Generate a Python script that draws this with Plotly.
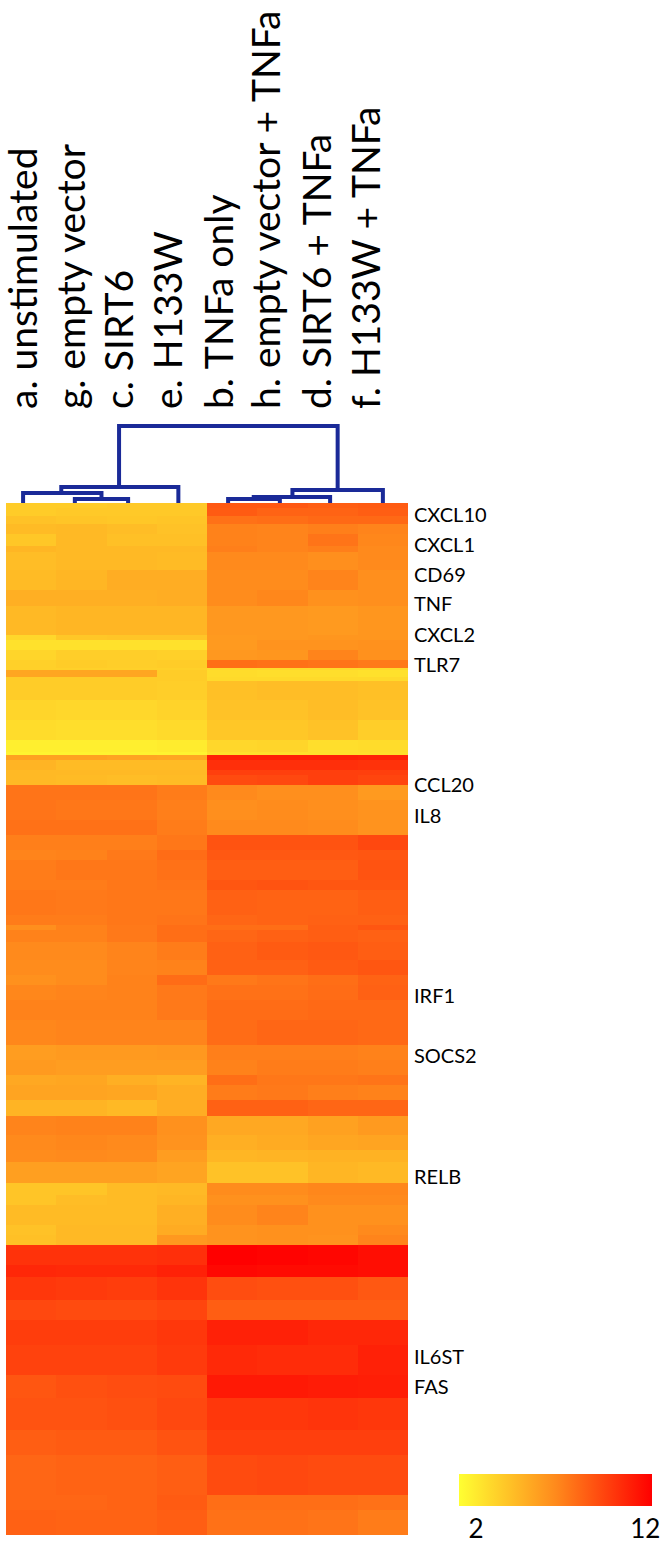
import plotly.graph_objects as go

conditions = ["a. unstimulated", "g. empty vector", "c. SIRT6", "e. H133W", "b. TNFa only",
              "h. empty vector + TNFa", "d. SIRT6 + TNFa", "f. H133W + TNFa"]
label_positions = [-0.13, 0.82, 1.77, 2.76, 3.76, 4.71, 5.71, 6.7]

# height of each visually uniform band of genes, top to bottom, on a 1032-row axis
band_rows = [5, 8, 8, 10, 12, 6, 18, 20, 16, 29, 5, 10, 10, 8, 2, 7, 4, 19, 20, 20, 12, 3, 5, 10, 5, 10,
             15, 20, 15, 15, 10, 20, 10, 25, 10, 5, 12, 18, 15, 10, 15, 20, 25, 15, 15, 10, 15, 16,
             19, 15, 12, 21, 12, 10, 20, 10, 10, 20, 12, 23, 20, 25, 30, 23, 32, 25, 40, 15, 25]
band_values = [
 [4.2,4.2,4.3,4.3,8.8,8.8,8.6,8.7],[4.2,4.3,4.3,4.3,8.7,8.4,8.4,8.6],[4.6,4.5,4.4,4.5,7.9,8.0,8.2,8.2],
 [4.9,5.0,4.8,4.6,7.3,7.2,7.4,7.2],[4.4,5.0,4.7,4.7,7.3,7.2,7.8,7.1],[5.1,5.0,5.0,5.0,7.4,7.2,7.4,7.0],
 [4.8,5.0,5.0,4.9,7.0,7.0,6.8,7.0],[4.9,5.1,5.5,5.5,6.9,6.9,7.2,6.8],[5.4,5.4,5.4,5.5,6.9,7.1,6.7,6.8],
 [5.0,5.1,5.1,5.1,6.4,6.4,6.3,6.5],[3.7,4.4,4.5,4.5,6.3,6.4,6.5,6.5],[3.3,3.3,3.3,3.3,6.3,6.6,6.6,6.7],
 [3.8,4.1,4.1,4.0,6.4,6.5,7.2,6.7],[4.0,4.2,4.1,4.2,8.0,7.9,7.8,7.6],[4.0,4.0,4.0,4.0,3.6,3.6,3.6,3.6],
 [5.8,5.8,5.8,4.2,3.5,3.4,3.4,3.3],[4.2,4.2,4.2,4.2,3.6,3.6,3.6,3.6],[4.2,4.2,4.2,4.1,4.7,4.8,4.8,4.7],
 [3.8,3.7,3.7,3.9,4.6,4.6,4.8,4.6],[3.5,3.4,3.4,3.6,4.4,4.4,4.6,4.1],[2.7,2.7,2.7,2.8,3.7,3.8,3.4,3.5],
 [2.5,2.5,2.5,2.5,3.4,3.4,3.4,3.4],[6.0,6.0,5.9,5.8,10.9,10.9,10.9,10.8],[5.2,4.9,4.9,4.9,10.3,10.3,10.3,10.2],
 [5.0,5.0,5.0,5.0,9.7,9.7,9.7,9.7],[5.0,4.9,4.8,4.9,9.3,9.4,9.7,9.5],
 [7.8,7.8,7.8,7.5,7.0,6.8,6.8,6.3],[7.8,7.7,7.7,7.4,6.8,6.9,6.8,6.6],[7.9,7.9,7.9,7.5,7.0,7.0,6.9,6.6],
 [7.4,7.4,7.4,7.7,9.0,9.0,9.0,9.4],[7.2,7.3,7.6,8.1,8.8,8.8,8.8,8.9],[7.5,7.7,7.7,7.9,8.6,8.6,8.6,9.0],
 [7.5,7.5,7.7,7.8,8.9,9.0,8.9,8.9],[7.7,7.6,7.7,7.7,8.5,8.4,8.4,8.6],[7.5,7.5,7.7,7.8,8.3,8.4,8.5,8.5],
 [6.8,7.3,7.6,8.0,8.0,8.0,8.6,8.9],[7.3,7.3,7.6,8.0,8.3,8.5,8.6,8.5],[7.0,7.0,7.2,7.5,8.5,8.7,8.8,8.6],
 [6.9,6.9,7.2,7.3,8.5,8.5,8.7,8.9],[6.7,6.9,7.3,8.1,7.6,7.8,8.0,8.4],[7.1,7.2,7.3,7.6,7.9,7.9,8.1,8.5],
 [7.3,7.3,7.3,7.6,8.1,8.1,8.2,8.2],[7.1,7.2,7.2,7.2,8.1,8.3,8.3,8.2],[6.2,6.3,6.3,6.4,7.4,7.4,7.4,7.3],
 [6.3,6.2,6.2,6.2,7.3,7.5,7.5,7.4],[5.7,5.8,5.4,5.2,8.0,7.7,7.7,7.8],[5.9,5.9,5.8,5.5,7.5,7.6,7.4,7.3],
 [5.2,5.2,5.0,5.5,8.5,8.5,8.3,8.3],[7.2,7.3,7.3,6.7,5.7,5.7,6.0,6.3],[7.0,7.1,7.0,6.6,5.4,5.6,5.8,5.9],
 [6.9,7.0,6.9,6.2,5.1,5.2,5.3,5.3],[6.1,6.1,6.1,5.9,4.6,4.6,5.1,5.0],[4.5,4.5,4.9,5.0,6.9,6.9,7.1,7.1],
 [4.5,4.8,4.9,5.1,6.7,6.7,7.0,7.0],[4.9,4.9,4.9,5.4,6.9,7.2,6.7,6.7],[4.6,5.0,5.0,5.6,6.6,6.7,6.7,7.0],
 [4.7,5.0,5.0,6.4,6.6,6.7,6.6,7.2],[10.2,10.2,10.2,10.3,12.0,11.9,11.8,11.5],[10.6,10.5,10.5,10.8,11.7,11.6,11.6,11.5],
 [10.0,9.9,9.8,10.1,9.2,9.1,9.1,8.8],[9.4,9.3,9.3,9.5,8.6,8.6,8.6,8.6],[9.8,9.8,9.8,10.0,10.8,10.8,10.6,10.6],
 [9.6,9.6,9.6,9.9,10.5,10.4,10.4,10.8],[8.9,9.1,9.2,9.3,11.1,11.1,11.0,10.9],[9.0,9.0,9.1,9.4,10.0,10.0,10.1,10.0],
 [8.6,8.7,8.7,9.0,9.7,9.7,9.7,9.7],[8.3,8.4,8.4,8.6,9.3,9.4,9.3,9.3],[8.3,8.3,8.4,8.7,8.0,8.0,8.0,7.9],
 [8.5,8.4,8.4,8.6,7.9,7.9,7.8,7.5],
]

genes = ["CXCL10", "CXCL1", "CD69", "TNF", "CXCL2", "TLR7", "CCL20", "IL8", "IRF1", "SOCS2", "RELB", "IL6ST", "FAS"]
gene_rows = [12, 42, 72, 101, 132, 162, 282, 313, 493, 553, 674, 854, 884]

# dendrogram merges: child A (position, height), child B (position, height), merge height
merges = [
    (0.87, 0, 1.93, 0, 4), (-0.16, 0, 1.4, 4, 10), (0.6, 10, 2.93, 0, 16),
    (3.92, 0, 4.95, 0, 4), (4.43, 4, 5.95, 0, 6), (5.2, 6, 7.0, 0, 13), (1.75, 16, 6.1, 13, 77),
]

# key runs slightly past its tick labels at both ends
zmin, zmax = 1.0, 12.4
z = [[zmin + (zmax - zmin) * (v - 2) / 10 for v in row] for row in band_values]

edges = [0]
for n in band_rows:
    edges.append(edges[-1] + n)
total = edges[-1]

W, H = 664, 1543
fig = go.Figure()
fig.add_trace(go.Heatmap(
    z=z, x=list(range(8)), y=edges, zmin=zmin, zmax=zmax, hoverinfo="skip",
    colorscale=[[0, "rgb(255,255,50)"], [0.5, "rgb(255,138,28)"], [1, "rgb(255,0,0)"]],
    colorbar=dict(orientation="h", lenmode="pixels", len=193, thicknessmode="pixels", thickness=32,
                  x=459 / W, xanchor="left", y=(H - 1538) / H, yanchor="bottom", outlinewidth=0,
                  xpad=0, ypad=0, tickmode="array", tickvals=[2, 12], ticktext=["2", "12"], ticks="",
                  tickfont=dict(family="Lato", size=26, color="black")),
))
dx, dy = [], []
for xa, ha, xb, hb, h in merges:
    dx += [xa, xa, xb, xb, None]
    dy += [ha, h, h, hb, None]
fig.add_trace(go.Scatter(x=dx, y=dy, mode="lines", xaxis="x2", yaxis="y2", hoverinfo="skip",
                         line=dict(color="#1a2a98", width=4), showlegend=False))
fig.update_layout(
    width=W, height=H, margin=dict(l=0, r=0, t=0, b=0, autoexpand=False), paper_bgcolor="white", plot_bgcolor="white",
    xaxis=dict(domain=[6 / W, 408 / W], range=[-0.5, 7.5], showticklabels=False, showgrid=False, zeroline=False, ticks=""),
    yaxis=dict(domain=[(H - 1535) / H, (H - 503) / H], range=[total, 0], side="right", showgrid=False, zeroline=False,
               tickmode="array", tickvals=gene_rows, ticktext=genes, ticks="",
               tickfont=dict(family="Lato", size=20, color="black"), ticklabelstandoff=5),
    xaxis2=dict(domain=[6 / W, 408 / W], range=[-0.5, 7.5], anchor="y2", side="top", showgrid=False, zeroline=False,
                tickmode="array", tickvals=label_positions, ticktext=conditions, tickangle=-90, ticks="",
                ticklabeloverflow="allow",
                tickfont=dict(family="Lato", size=39, color="black"), ticklabelstandoff=0),
    yaxis2=dict(domain=[(H - 503) / H, (H - 410) / H], range=[0, 93], anchor="x2", visible=False),
)
fig.write_html("out.html", post_script="document.body.style.margin='0';", config={"displayModeBar": False})
